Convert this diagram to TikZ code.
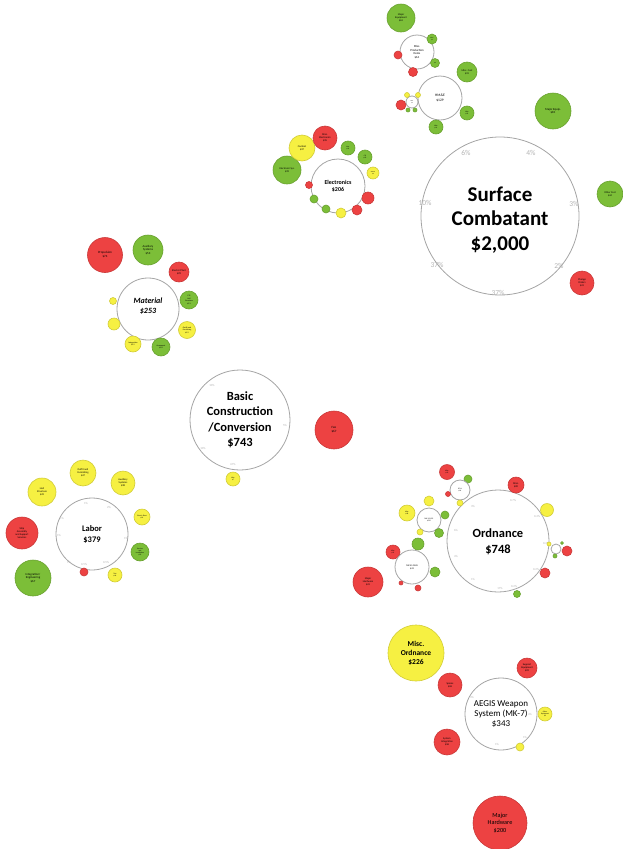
\documentclass[tikz,border=0pt]{standalone}
\usepackage{fontspec}
\setmainfont{Carlito}
\definecolor{bred}{RGB}{237,66,66}
\definecolor{bgreen}{RGB}{124,190,56}
\definecolor{byellow}{RGB}{246,240,66}
\definecolor{rim}{RGB}{165,165,165}
\definecolor{pct}{RGB}{180,180,180}
\tikzset{
 bub/.style={circle, inner sep=0pt, align=center, line width=0.6pt, font=\fontsize{2.6}{3}\selectfont},
 wc/.style={bub, draw=rim, fill=white, line width=0.8pt},
 rc/.style={bub, draw=bred!85!black, fill=bred},
 gc/.style={bub, draw=bgreen!85!black, fill=bgreen},
 yc/.style={bub, draw=byellow!85!black, fill=byellow},
 pc/.style={font=\fontsize{3}{3}\selectfont, text=pct, inner sep=0pt},
 pcbig/.style={font=\fontsize{7.5}{7.5}\selectfont, text=pct, inner sep=0pt},
 lbl/.style={align=center, inner sep=0pt},
 r/.style={minimum size=2*#1pt},
}
\begin{document}
\begin{tikzpicture}[x=1pt,y=-1pt]
\useasboundingbox (0,0) rectangle (623,849);

% ---- top cluster
\node[gc, r=14] (t1) at (401,18) {Major\\Equipment\\\$61};
\node[wc, r=17, font=\fontsize{3}{3.6}\selectfont] (t2) at (417,52) {Misc.\\Production\\Items\\\$61};
\node[gc, r=5, font=\fontsize{1.6}{2}\selectfont] (t3) at (432,39) {Misc\\\$5};
\node[gc, r=4.5, font=\fontsize{1.6}{2}\selectfont] (t4) at (435,63) {\$3};
\node[rc, r=4] (t5) at (398,55) {};
\node[rc, r=4.5] (t6) at (413,72) {};
\node[gc, r=10] (t7) at (467,72) {Misc. Cost\\\$31};
\node[wc, r=22, font=\fontsize{3.6}{4.6}\selectfont] (t8) at (440,98) {HM\&E\\\$129};
\node[wc, r=6, font=\fontsize{1.4}{1.8}\selectfont] (t9) at (412,102) {Misc\\\$9};
\node[rc, r=5] (t10) at (401,105) {};
\node[yc, r=2.5] (t11) at (407,95) {};
\node[yc, r=2.5] (t12) at (418,95) {};
\node[gc, r=2] (t13) at (408,110) {};
\node[gc, r=2] (t14) at (415,110) {};
\node[gc, r=7, font=\fontsize{1.8}{2.2}\selectfont] (t15) at (467,113) {Misc\\\$12};
\node[gc, r=7, font=\fontsize{1.8}{2.2}\selectfont] (t16) at (436,127) {Misc\\\$11};
\node[gc, r=18, font=\fontsize{3}{3.6}\selectfont] (t17) at (553,111) {Major Equip.\\\$81};
\node[gc, r=13] (t18) at (610,194) {Other Cost\\\$44};
\node[rc, r=12] (t19) at (582,283) {Change\\Orders\\\$41};

% ---- Surface Combatant
\node[wc, r=79] (sc) at (500,216) {};
\node[lbl, font=\fontsize{21}{24.5}\selectfont\bfseries] (sctext) at (500,220) {Surface\\Combatant\\\$2,000};
\node[pcbig] (sp1) at (466,153) {6\%};
\node[pcbig] (sp2) at (531,153) {4\%};
\node[pcbig] (sp3) at (425,203) {10\%};
\node[pcbig] (sp4) at (574,204) {3\%};
\node[pcbig] (sp5) at (437,265) {37\%};
\node[pcbig] (sp6) at (559,266) {2\%};
\node[pcbig] (sp7) at (498,293) {37\%};

% ---- Electronics
\node[wc, r=27, font=\fontsize{6}{7.5}\selectfont\bfseries] (e0) at (338,186) {Electronics\\\$206};
\node[gc, r=14] (e1) at (287,170) {Electronic Sys.\\\$39};
\node[yc, r=13] (e2) at (302,148) {Combat\\\$37};
\node[rc, r=12] (e3) at (325,138) {Misc.\\Electronics\\\$35};
\node[gc, r=7, font=\fontsize{1.8}{2.2}\selectfont] (e4) at (348,148) {Nav.\\\$14};
\node[gc, r=7, font=\fontsize{1.8}{2.2}\selectfont] (e5) at (365,157) {C3I\\\$13};
\node[yc, r=6, font=\fontsize{1.6}{2}\selectfont] (e6) at (373,173) {Sensor\\\$9};
\node[rc, r=6] (e7) at (368,198) {};
\node[rc, r=5] (e8) at (357,210) {};
\node[yc, r=5] (e9) at (341,213) {};
\node[gc, r=4] (e10) at (326,209) {};
\node[gc, r=4] (e11) at (314,199) {};
\node[rc, r=3.5] (e12) at (309,185) {};

% ---- Material
\node[wc, r=31] (m0) at (148,309) {};
\node[lbl, font=\fontsize{8}{9.5}\selectfont\bfseries\itshape] (m0text) at (148,306) {Material\\\$253};
\node[rc, r=17.5, font=\fontsize{3.2}{4}\selectfont] (m1) at (105,255) {Propulsion\\\$74};
\node[gc, r=15, font=\fontsize{3}{3.6}\selectfont] (m2) at (148,250) {Auxiliary\\Systems\\\$53};
\node[rc, r=10] (m3) at (179,272) {Electric Plant\\\$29};
\node[gc, r=9, font=\fontsize{2}{2.5}\selectfont] (m4) at (189,300) {C3I\\Hull\\Structure\\\$21};
\node[yc, r=8.5, font=\fontsize{2}{2.5}\selectfont] (m5) at (187,330) {Outfit and\\Furnishing\\\$19};
\node[gc, r=9, font=\fontsize{2}{2.5}\selectfont] (m6) at (161,347) {Armament\\\$18};
\node[yc, r=8, font=\fontsize{2}{2.5}\selectfont] (m7) at (133,344) {Integration\\\$15};
\node[yc, r=6] (m8) at (114,324) {};
\node[yc, r=3.5] (m9) at (113,301) {};

% ---- Basic Construction
\node[wc, r=50] (b0) at (240,420) {};
\node[lbl, font=\fontsize{12.5}{15.5}\selectfont\bfseries] (b0text) at (240,420) {Basic\\Construction\\/Conversion\\\$743};
\node[pc] (bp1) at (212,385) {10\%};
\node[pc] (bp2) at (285,425) {5\%};
\node[pc] (bp3) at (203,448) {10\%};
\node[pc] (bp4) at (233,464) {67\%};
\node[rc, r=19, font=\fontsize{3.2}{4}\selectfont] (b1) at (334,430) {Fee\\\$67};
\node[yc, r=7, font=\fontsize{1.8}{2.2}\selectfont] (b2) at (233,479) {Misc\\\$7};

% ---- Labor
\node[wc, r=36, font=\fontsize{8.5}{11}\selectfont\bfseries] (l0) at (92,534) {Labor\\\$379};
\node[pc] (lp1) at (86,503) {1\%};
\node[pc] (lp2) at (109,507) {2\%};
\node[pc] (lp3) at (62,518) {1\%};
\node[pc] (lp4) at (59,535) {1\%};
\node[pc] (lp5) at (126,538) {1\%};
\node[pc] (lp6) at (69,562) {1\%};
\node[pc] (lp7) at (84,564) {0.5\%};
\node[pc] (lp8) at (106,562) {0.5\%};
\node[yc, r=13] (l1) at (83,473) {Outfit and\\Furnishing\\\$47};
\node[yc, r=14] (l2) at (42,492) {Hull\\Structure\\\$49};
\node[yc, r=12] (l3) at (123,483) {Auxiliary\\Systems\\\$38};
\node[yc, r=8, font=\fontsize{1.8}{2.2}\selectfont] (l4) at (142,517) {Electric Plant\\\$21};
\node[gc, r=9, font=\fontsize{1.8}{2.2}\selectfont] (l5) at (140,552) {Services\\and\\Installation\\\$23};
\node[yc, r=7, font=\fontsize{1.8}{2.2}\selectfont] (l6) at (115,575) {Test\\\$16};
\node[rc, r=4] (l7) at (84,572) {};
\node[rc, r=16] (l8) at (22,533) {Ship\\Assembly\\and Support\\Services};
\node[gc, r=18, font=\fontsize{3}{3.6}\selectfont] (l9) at (33,578) {Integration/\\Engineering\\\$67};

% ---- Ordnance
\node[wc, r=51] (o0) at (498,541) {};
\node[lbl, font=\fontsize{12.5}{16}\selectfont\bfseries] (o0text) at (498,542) {Ordnance\\\$748};
\node[pc] (op1) at (473,506) {3\%};
\node[pc] (op2) at (513,500) {0.7\%};
\node[pc] (op3) at (537,516) {0.4\%};
\node[pc] (op4) at (456,530) {6\%};
\node[pc] (op5) at (456,556) {4\%};
\node[pc] (op6) at (546,543) {0.2\%};
\node[pc] (op7) at (536,569) {0.2\%};
\node[pc] (op8) at (473,579) {1\%};
\node[pc] (op9) at (500,588) {17\%};
\node[pc] (op10) at (514,586) {0.2\%};
\node[rc, r=8] (o1) at (516,485) {Misc.\\\$20};
\node[yc, r=6.5] (o2) at (547,510) {};
\node[wc, r=5] (o3) at (556,549) {};
\node[rc, r=5] (o3a) at (567,551) {};
\node[gc, r=2] (o3b) at (555,556) {};
\node[yc, r=2] (o3c) at (549,544) {};
\node[gc, r=1.5] (o3d) at (562,543) {};
\node[rc, r=5] (o4) at (545,573) {};
\node[gc, r=3.5] (o5) at (517,594) {};
\node[rc, r=7.5, font=\fontsize{1.8}{2.2}\selectfont] (o6) at (447,472) {Misc.\\\$13};
\node[gc, r=4] (o7) at (468,479) {};
\node[wc, r=10, font=\fontsize{1.8}{2.2}\selectfont] (o8) at (460,490) {SPY-1\\\$24};
\node[rc, r=2.5] (o9) at (448,494) {};
\node[yc, r=3] (o10) at (460,503) {};
\node[yc, r=5] (o11) at (429,501) {};
\node[yc, r=8, font=\fontsize{1.8}{2.2}\selectfont] (o12) at (407,513) {Misc.\\\$18};
\node[wc, r=12, font=\fontsize{2}{2.5}\selectfont] (o13) at (429,520) {MK 41 VLS\\\$30};
\node[gc, r=4] (o14) at (445,515) {};
\node[gc, r=4.5] (o15) at (439,533) {};
\node[yc, r=3] (o16) at (420,532) {};
\node[gc, r=6] (o17) at (418,544) {};
\node[rc, r=7, font=\fontsize{1.8}{2.2}\selectfont] (o18) at (393,552) {Misc.\\\$15};
\node[wc, r=17, font=\fontsize{2.4}{3}\selectfont] (o19) at (412,567) {MK 45 GUN\\\$43};
\node[gc, r=5] (o20) at (435,572) {};
\node[rc, r=2] (o21) at (401,583) {};
\node[rc, r=3] (o22) at (418,588) {};
\node[rc, r=15] (o23) at (368,582) {Major\\Hardware\\\$41};

% ---- AEGIS
\node[yc, r=28, font=\fontsize{7.5}{9}\selectfont\bfseries] (a0) at (416,653) {Misc.\\Ordnance\\\$226};
\node[rc, r=12] (a1) at (450,685) {Spares\\\$26};
\node[rc, r=10] (a2) at (527,668) {Support\\Equipment\\\$22};
\node[wc, r=36] (a3) at (501,714) {};
\node[lbl, font=\fontsize{9}{9.8}\selectfont] (a3text) at (501,714) {AEGIS Weapon\\System (MK-7)\\\$343};
\node[pc] (ap1) at (472,697) {3\%};
\node[pc] (ap2) at (530,714) {4\%};
\node[pc] (ap3) at (525,737) {1\%};
\node[pc] (ap4) at (497,744) {1\%};
\node[yc, r=7, font=\fontsize{1.8}{2.2}\selectfont] (a4) at (545,714) {Other\\Equipment\\\$9};
\node[rc, r=13] (a5) at (447,742) {System\\Integration\\\$36};
\node[yc, r=4] (a6) at (520,747) {};
\node[rc, r=27, font=\fontsize{6.2}{7.5}\selectfont] (a7) at (500,823) {Major\\Hardware\\\$200};
\end{tikzpicture}
\end{document}
